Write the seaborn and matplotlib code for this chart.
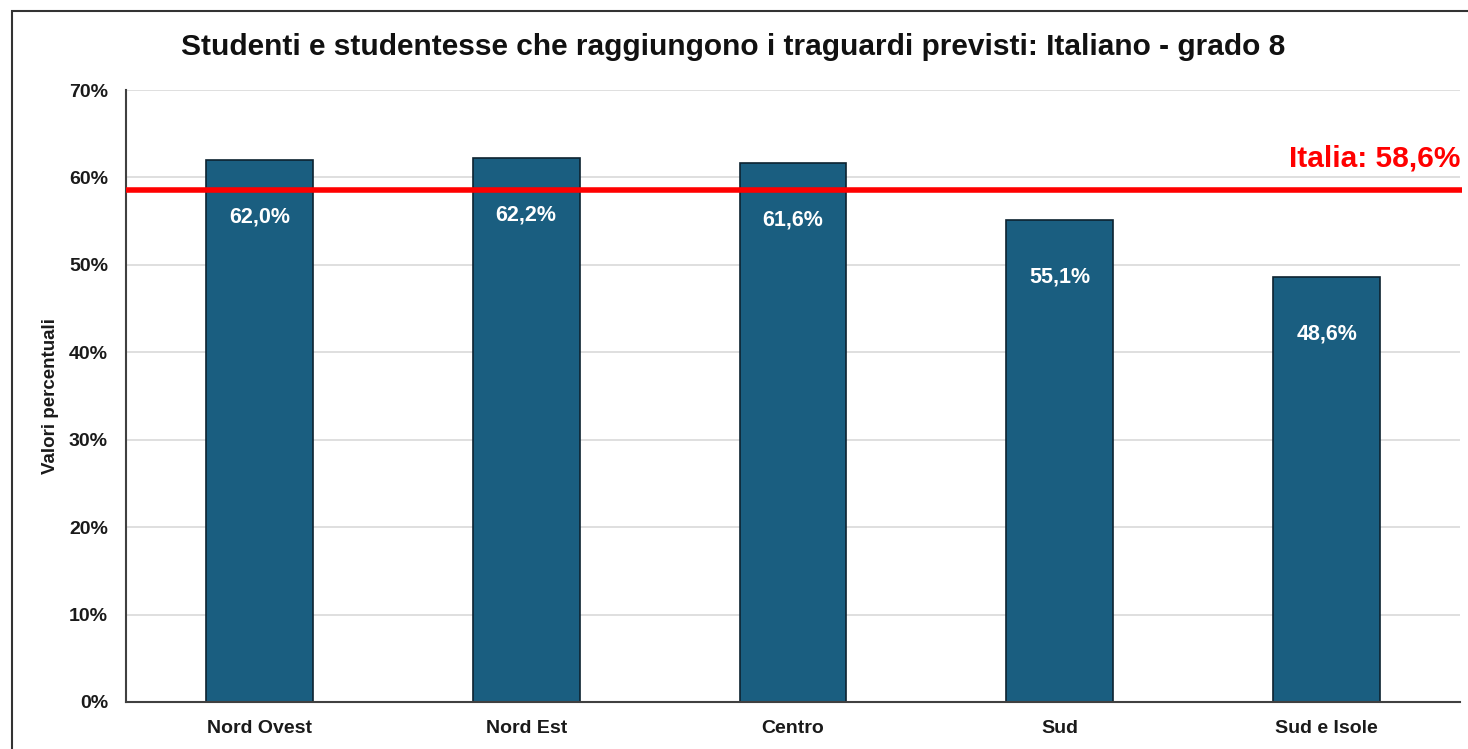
import matplotlib
matplotlib.use("Agg")
import matplotlib.pyplot as plt
from matplotlib.patches import Rectangle
from matplotlib.ticker import FuncFormatter
import seaborn as sns
import pandas as pd

# Data
aree = ["Nord Ovest", "Nord Est", "Centro", "Sud", "Sud e Isole"]
percentuali = [62.0, 62.2, 61.6, 55.1, 48.6]
italia = 58.6
titolo = "Studenti e studentesse che raggiungono i traguardi previsti: Italiano - grado 8"

df = pd.DataFrame({"area": aree, "valore": percentuali})

sns.set_theme(style="white")
plt.rcParams["font.family"] = ["Liberation Sans", "DejaVu Sans"]

fig = plt.figure(figsize=(14.68, 7.49), dpi=100)
ax = fig.add_axes([126 / 1468, 1 - 702 / 749, (1460 - 126) / 1468, (702 - 90) / 749])

sns.barplot(data=df, x="area", y="valore", ax=ax, color="#1a5e80",
            width=0.4, edgecolor="#0d2230", linewidth=1.2, saturation=1)

ax.set_ylim(0, 70)
ax.set_xlim(-0.5, len(aree) - 0.5)
ax.set_yticks(range(0, 71, 10))
ax.yaxis.set_major_formatter(FuncFormatter(lambda v, _: f"{int(v)}%"))
ax.grid(axis="y", color="#d9d9d9", linewidth=1.2)
ax.set_axisbelow(True)

for s in ["top", "right"]:
    ax.spines[s].set_visible(False)
for s in ["left", "bottom"]:
    ax.spines[s].set_color("#404040")
    ax.spines[s].set_linewidth(1.5)

ax.tick_params(axis="both", length=0, labelsize=14, colors="#1a1a1a")
ax.tick_params(axis="y", pad=13)
ax.tick_params(axis="x", pad=13)
for lab in ax.get_xticklabels() + ax.get_yticklabels():
    lab.set_fontweight("bold")

ax.set_xlabel("")
ax.set_ylabel("Valori percentuali", fontsize=13.5, fontweight="bold", color="#1a1a1a")
ax.yaxis.set_label_coords(-0.0505, 0.5)

# Value labels inside the bars
for i, v in enumerate(percentuali):
    ax.text(i, v - 6.5, f"{v:.1f}%".replace(".", ","), ha="center", va="center",
            color="white", fontsize=15.5, fontweight="bold")

# National reference line
ax.axhline(italia, color="#ff0000", linewidth=4, zorder=5, clip_on=False,
           xmin=0, xmax=1.0015, solid_capstyle="butt")
ax.text(len(aree) - 0.5, italia + 2.0, f"Italia: {italia:.1f}%".replace(".", ","),
        ha="right", va="bottom", color="#ff0000", fontsize=21.5, fontweight="bold")

fig.suptitle(titolo, x=733 / 1468, y=1 - 47 / 749, va="center",
             fontsize=21.5, fontweight="bold", color="#111111")

# Outer frame
fig.add_artist(Rectangle((12 / 1468, -0.05), 1.1, 0.05 + 1 - 11 / 749,
                         transform=fig.transFigure, fill=False,
                         edgecolor="#333333", linewidth=1.5))

fig.savefig("out.png", dpi=100)
